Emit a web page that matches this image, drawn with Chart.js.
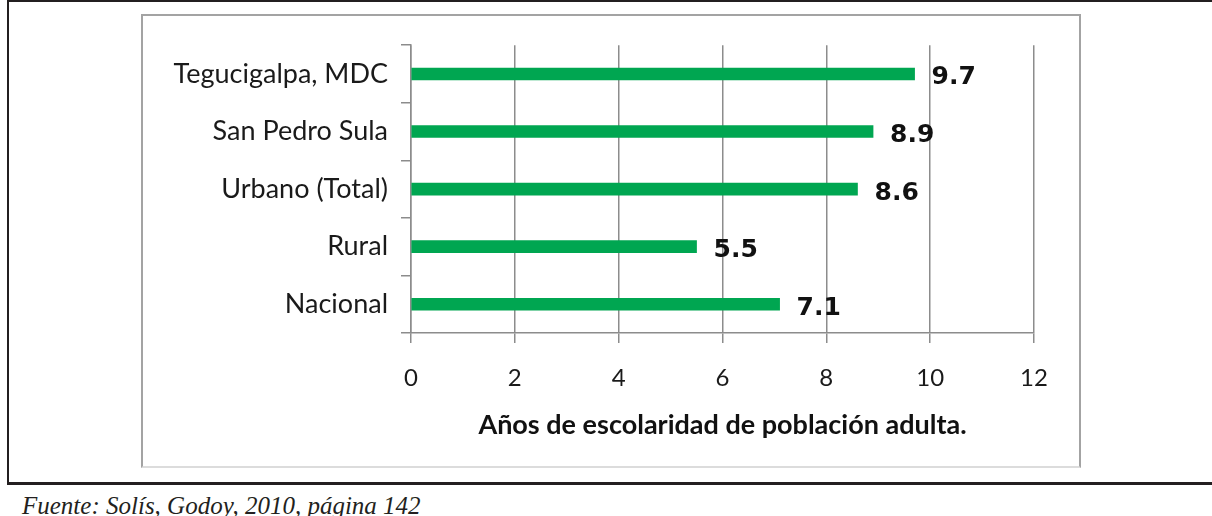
<!DOCTYPE html>
<html>
<head>
<meta charset="utf-8">
<script src="https://cdn.jsdelivr.net/npm/chart.js@4.4.0/dist/chart.umd.min.js"></script>
<style>
  body { margin: 0; background: #fff; width: 1212px; height: 516px; overflow: hidden; position: relative; }
  .frame { position: absolute; left: 7px; top: 0; width: 1220px; height: 480px;
           border-top: 2px solid #231f20; border-left: 2px solid #231f20; border-bottom: 3px solid #231f20; }
  .box { position: absolute; left: 141px; top: 14px; width: 936px; height: 450px;
         border: 2px solid #a3a3a3; border-bottom-color: #dcdcdc; background: #fff; }
  .caption { position: absolute; left: 22px; top: 494px; font-family: "Liberation Serif", serif;
             font-style: italic; font-size: 25px; line-height: 24px; color: #231f20; white-space: nowrap; }
</style>
</head>
<body>
<div class="frame"></div>
<div class="box"><canvas id="myChart" width="936" height="450"></canvas></div>
<div class="caption">Fuente: Solís, Godoy, 2010, página 142</div>
<script>
const categories = ["Tegucigalpa, MDC", "San Pedro Sula", "Urbano (Total)", "Rural", "Nacional"];
const years = [9.7, 8.9, 8.6, 5.5, 7.1];
const xTicks = [0, 2, 4, 6, 8, 10, 12];
const axisTitle = "Años de escolaridad de población adulta.";

const valueLabels = {
  id: "valueLabels",
  afterDatasetsDraw(chart) {
    const ctx = chart.ctx;
    const meta = chart.getDatasetMeta(0);
    ctx.save();
    ctx.font = "bold 25px 'DejaVu Sans'";
    ctx.fillStyle = "#111";
    ctx.textAlign = "left";
    ctx.textBaseline = "middle";
    meta.data.forEach((bar, i) => {
      ctx.fillText(years[i].toFixed(1), bar.x + 17, bar.y + 4);
    });
    ctx.restore();
  },
};

new Chart(document.getElementById("myChart"), {
  type: "bar",
  data: {
    labels: categories,
    datasets: [
      {
        data: years,
        backgroundColor: "#00a651",
        barThickness: 12,
      },
    ],
  },
  options: {
    indexAxis: "y",
    responsive: false,
    animation: false,
    devicePixelRatio: 1,
    layout: { padding: { top: 22, right: 45, bottom: 25, left: 0 } },
    plugins: { legend: { display: false }, tooltip: { enabled: false } },
    scales: {
      x: {
        min: 0,
        max: 12,
        afterBuildTicks: (scale) => {
          scale.ticks = xTicks.map((v) => ({ value: v }));
        },
        afterFit: (scale) => {
          scale.height = 108;
        },
        grid: { color: "#8c8c8c", lineWidth: 1.5, tickLength: 10 },
        border: { color: "#8c8c8c", width: 1.5 },
        ticks: { padding: 21, color: "#1a1a1a", font: { family: "Lato", size: 24 } },
        title: {
          display: true,
          text: axisTitle,
          color: "#111",
          padding: { top: 0, bottom: 0 },
          font: { family: "Lato", size: 27, weight: "bold" },
        },
      },
      y: {
        afterFit: (scale) => {
          scale.width = 268;
        },
        grid: { drawOnChartArea: false, color: "#8c8c8c", lineWidth: 1.5, tickLength: 10 },
        border: { color: "#8c8c8c", width: 1.5 },
        ticks: { padding: 13, color: "#1a1a1a", font: { family: "Lato", size: 27 } },
      },
    },
  },
  plugins: [valueLabels],
});
</script>
</body>
</html>
